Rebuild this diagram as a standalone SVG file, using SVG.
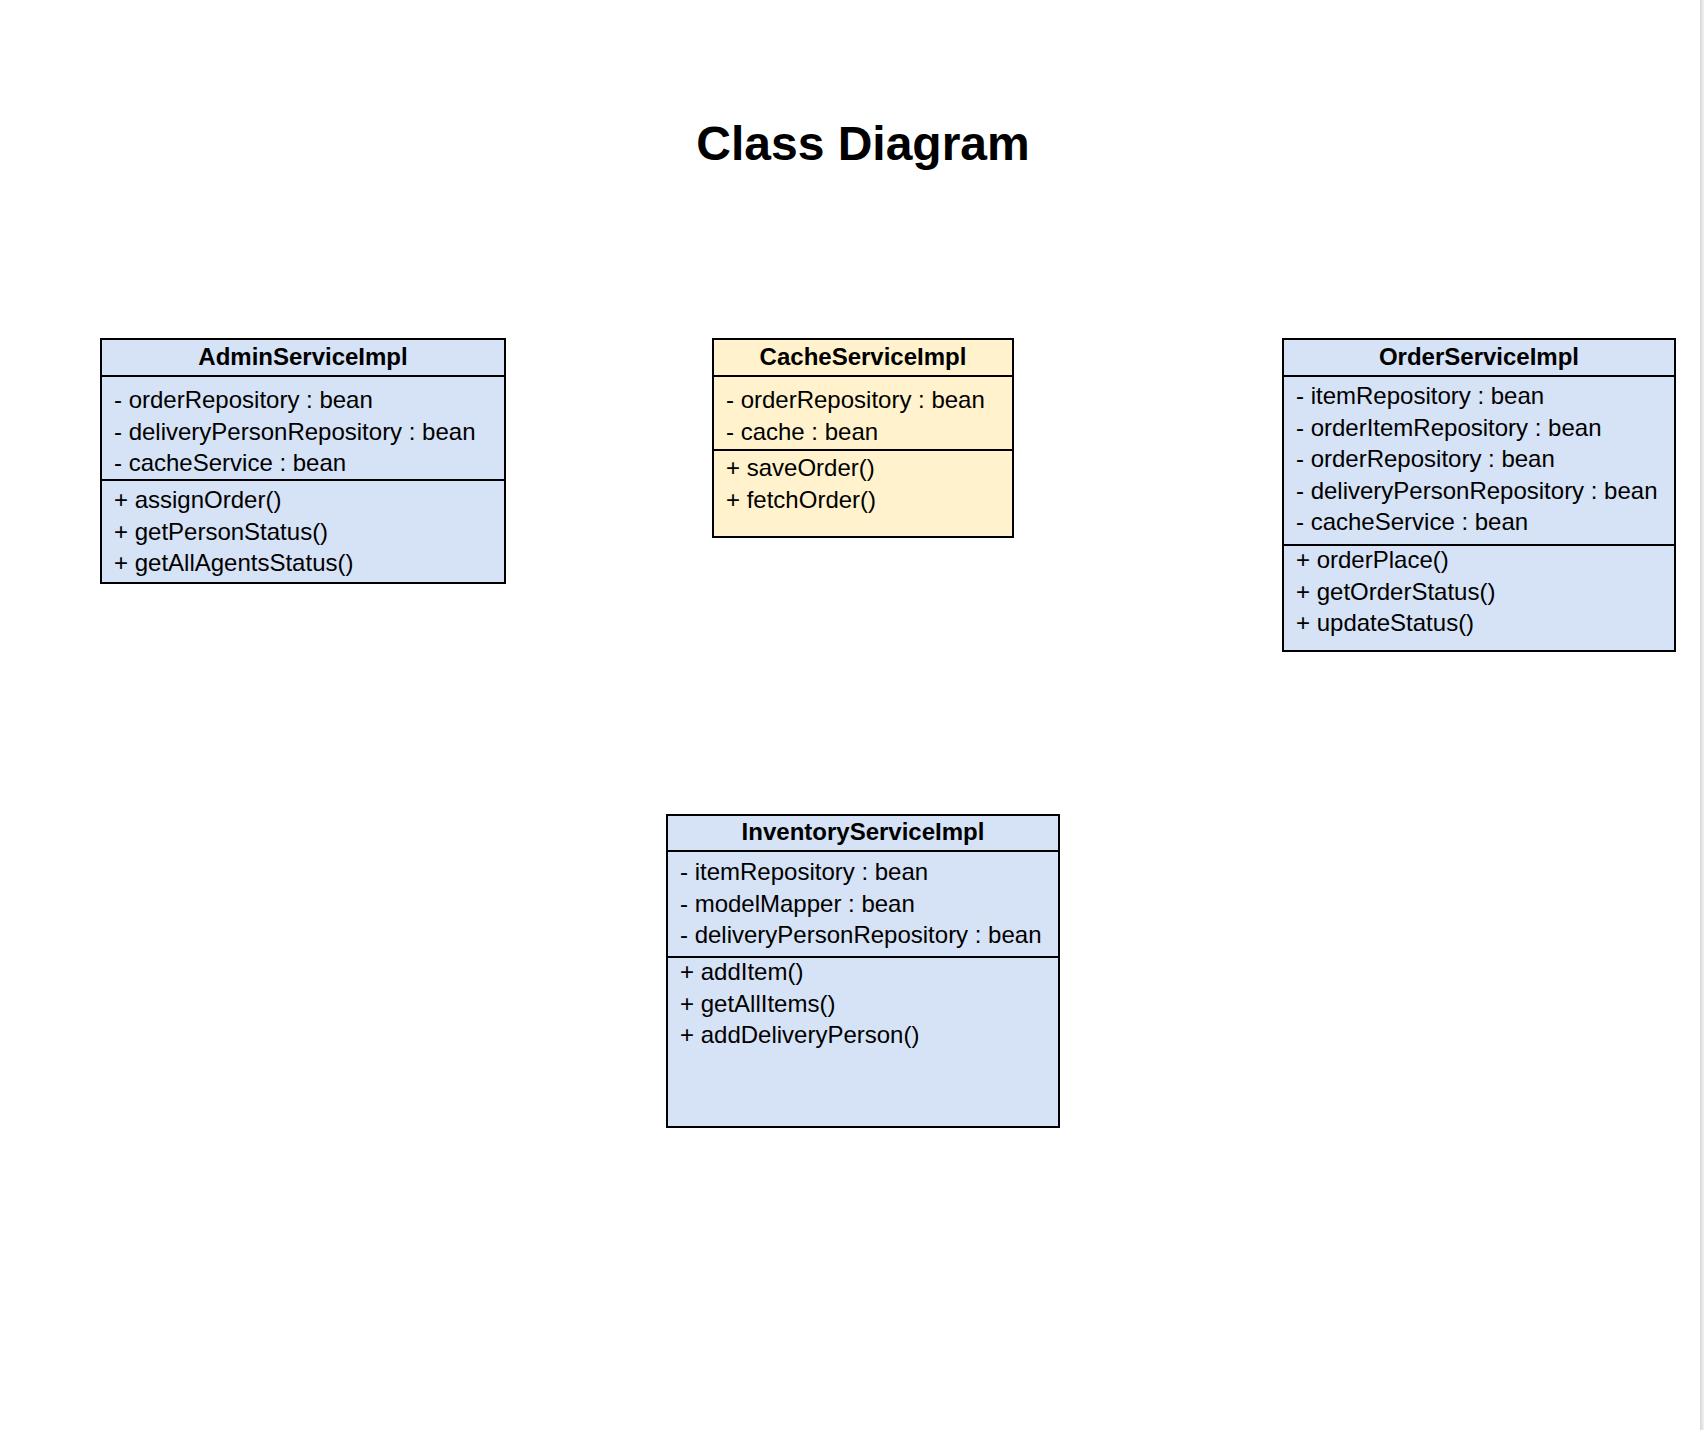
<svg xmlns="http://www.w3.org/2000/svg" width="1704" height="1430" viewBox="0 0 1704 1430">
<style>
.box{stroke:#000;stroke-width:2}
.blue{fill:#d6e2f5}
.yellow{fill:#fff2cc}
.div{stroke:#000;stroke-width:2}
.hd{font-family:"Liberation Sans",Arial,Helvetica,sans-serif;font-size:24px;font-weight:bold;fill:#000;text-anchor:middle}
.t{font-family:"Liberation Sans",Arial,Helvetica,sans-serif;font-size:24px;fill:#000}
.title{font-family:"Liberation Sans",Arial,Helvetica,sans-serif;font-size:48px;font-weight:bold;fill:#000;text-anchor:middle}
</style>
<defs>
<linearGradient id="sb" x1="0" y1="0" x2="1" y2="0">
<stop offset="0" stop-color="#d6d6d6"/>
<stop offset="1" stop-color="#f2f2f2"/>
</linearGradient>
</defs>
<rect width="1704" height="1430" fill="#fff"/>
<rect x="1700" y="0" width="4" height="1430" fill="url(#sb)"/>
<text class="title" x="863" y="160">Class Diagram</text>
<g id="connectors"></g>
<g id="AdminServiceImpl">
<rect class="box blue" x="101" y="339" width="404" height="244"/>
<line class="div" x1="101" y1="376" x2="505" y2="376"/>
<line class="div" x1="101" y1="480" x2="505" y2="480"/>
<text class="hd" x="303" y="365">AdminServiceImpl</text>
<text class="t" x="114" y="408">- orderRepository : bean</text>
<text class="t" x="114" y="439.5">- deliveryPersonRepository : bean</text>
<text class="t" x="114" y="471">- cacheService : bean</text>
<text class="t" x="114" y="508">+ assignOrder()</text>
<text class="t" x="114" y="539.5">+ getPersonStatus()</text>
<text class="t" x="114" y="571">+ getAllAgentsStatus()</text>
</g>
<g id="CacheServiceImpl">
<rect class="box yellow" x="713" y="339" width="300" height="198"/>
<line class="div" x1="713" y1="376" x2="1013" y2="376"/>
<line class="div" x1="713" y1="450" x2="1013" y2="450"/>
<text class="hd" x="863" y="365">CacheServiceImpl</text>
<text class="t" x="726" y="408">- orderRepository : bean</text>
<text class="t" x="726" y="439.5">- cache : bean</text>
<text class="t" x="726" y="476">+ saveOrder()</text>
<text class="t" x="726" y="507.5">+ fetchOrder()</text>
</g>
<g id="OrderServiceImpl">
<rect class="box blue" x="1283" y="339" width="392" height="312"/>
<line class="div" x1="1283" y1="376" x2="1675" y2="376"/>
<line class="div" x1="1283" y1="545" x2="1675" y2="545"/>
<text class="hd" x="1479" y="365">OrderServiceImpl</text>
<text class="t" x="1296" y="404">- itemRepository : bean</text>
<text class="t" x="1296" y="435.5">- orderItemRepository : bean</text>
<text class="t" x="1296" y="467">- orderRepository : bean</text>
<text class="t" x="1296" y="498.5">- deliveryPersonRepository : bean</text>
<text class="t" x="1296" y="530">- cacheService : bean</text>
<text class="t" x="1296" y="568">+ orderPlace()</text>
<text class="t" x="1296" y="599.5">+ getOrderStatus()</text>
<text class="t" x="1296" y="631">+ updateStatus()</text>
</g>
<g id="InventoryServiceImpl">
<rect class="box blue" x="667" y="815" width="392" height="312"/>
<line class="div" x1="667" y1="851" x2="1059" y2="851"/>
<line class="div" x1="667" y1="957" x2="1059" y2="957"/>
<text class="hd" x="863" y="840">InventoryServiceImpl</text>
<text class="t" x="680" y="880">- itemRepository : bean</text>
<text class="t" x="680" y="911.5">- modelMapper : bean</text>
<text class="t" x="680" y="943">- deliveryPersonRepository : bean</text>
<text class="t" x="680" y="980">+ addItem()</text>
<text class="t" x="680" y="1011.5">+ getAllItems()</text>
<text class="t" x="680" y="1043">+ addDeliveryPerson()</text>
</g>
</svg>
